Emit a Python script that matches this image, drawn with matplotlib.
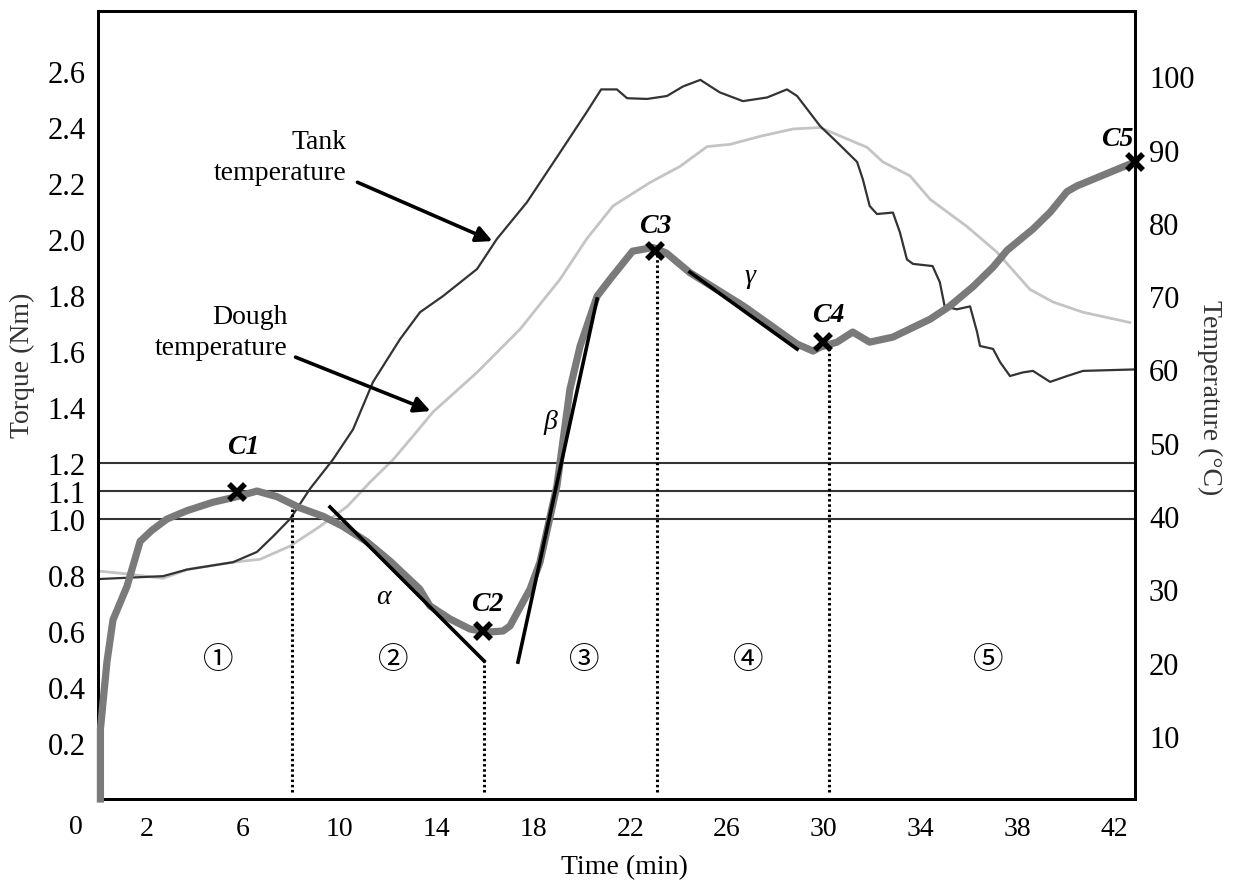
import numpy as np
import matplotlib.pyplot as plt

plt.rcParams['font.family'] = ['Liberation Serif', 'Noto Sans CJK JP', 'DejaVu Sans']

# torque curve (Nm) vs time (min)
torque_t = [0.1, 0.1, 0.37, 0.62, 1.2, 1.74, 2.23, 2.85, 3.68, 4.75, 5.75, 6.57, 7.4, 8.35,
            9.3, 10.1, 11.1, 12.07, 13.3, 13.72, 14.55, 15.38, 16.08, 16.74, 17.03, 17.86,
            18.27, 18.97, 19.51, 19.93, 20.63, 21.17, 22.1, 22.94, 23.5, 24.47, 26.7, 28.9,
            29.56, 29.85, 30.55, 31.2, 31.9, 32.86, 34.4, 35.2, 36.17, 37.0, 37.58, 38.65,
            39.36, 40.06, 40.47, 42.85]
torque = [0.0, 0.25, 0.49, 0.64, 0.76, 0.92, 0.96, 1.0, 1.03, 1.06, 1.08, 1.10, 1.08, 1.04,
          1.01, 0.975, 0.92, 0.85, 0.75, 0.69, 0.643, 0.607, 0.596, 0.6, 0.618, 0.75,
          0.846, 1.118, 1.464, 1.618, 1.796, 1.857, 1.957, 1.97, 1.95, 1.88, 1.76, 1.625,
          1.6, 1.614, 1.632, 1.668, 1.632, 1.65, 1.714, 1.76, 1.83, 1.90, 1.96, 2.036,
          2.096, 2.17, 2.19, 2.275]

# tank temperature (°C)
tank_t = [0.0, 2.69, 3.68, 5.58, 6.57, 7.23, 7.94, 8.76, 9.71, 10.54, 11.37, 12.48, 13.31,
          14.26, 15.67, 16.49, 17.73, 19.1, 20.2, 20.8, 21.45, 21.87, 22.7, 23.52, 24.18,
          24.9, 25.7, 26.66, 27.66, 28.48, 28.9, 29.85, 30.55, 31.38, 31.62, 31.9, 32.2,
          32.86, 33.15, 33.44, 33.69, 34.5, 34.8, 35.0, 35.5, 36.05, 36.34, 36.46, 37.0,
          37.29, 37.7, 38.24, 38.65, 39.36, 40.06, 40.72, 42.85]
tank_temp = [31.4, 31.8, 32.7, 33.7, 35.1, 37.2, 39.6, 43.7, 47.7, 51.8, 58.3, 64.1, 67.8,
             70.0, 73.7, 77.8, 82.8, 89.6, 95.1, 98.2, 98.2, 97.0, 96.9, 97.3, 98.6,
             99.5, 97.8, 96.6, 97.1, 98.2, 97.3, 93.2, 91.0, 88.3, 85.9, 82.3, 81.2,
             81.4, 78.7, 75.0, 74.4, 74.1, 71.9, 68.6, 68.2, 68.6, 65.1, 63.2, 62.8,
             61.0, 59.1, 59.6, 59.8, 58.3, 59.1, 59.8, 60.0]

# dough temperature (°C)
dough_t = [0.0, 1.2, 2.69, 3.68, 5.58, 6.7, 7.94, 9.18, 10.3, 11.24, 12.2, 13.02, 13.85,
           15.67, 17.45, 19.1, 20.2, 21.29, 22.82, 24.06, 25.18, 26.13, 27.37, 28.73,
           29.85, 31.79, 32.45, 33.57, 34.4, 35.92, 37.16, 38.53, 39.48, 40.72, 42.66]
dough_temp = [32.5, 32.1, 31.5, 32.7, 33.7, 34.1, 35.9, 38.6, 41.3, 44.6, 47.7, 50.9, 54.2,
              59.6, 65.5, 72.3, 77.8, 82.3, 85.5, 87.7, 90.4, 90.7, 91.8, 92.8,
              93.0, 90.3, 88.3, 86.4, 83.2, 79.5, 76.0, 70.9, 69.2, 67.8, 66.4]

# characteristic points C1..C5
c_names = ['C1', 'C2', 'C3', 'C4', 'C5']
c_t = [5.75, 15.92, 23.03, 29.97, 42.87]
c_torque = [1.096, 0.60, 1.957, 1.632, 2.275]
c_label_pos = [(6.0, 1.26), (16.1, 0.70), (23.05, 2.05), (30.2, 1.73), (42.15, 2.36)]

# slopes alpha, beta, gamma: (t0, t1), (torque0, torque1), label position
slopes = {
    'α': ((9.59, 15.96), (1.043, 0.493), (11.8, 0.725)),
    'β': ((17.36, 20.63), (0.489, 1.786), (18.7, 1.35)),
    'γ': ((24.47, 28.9), (1.882, 1.607), (26.95, 1.87)),
}

# phase boundaries (time, top of dotted line in torque)
bound_t = [8.0, 15.96, 23.1, 30.2]
bound_top = [1.04, 0.493, 1.957, 1.632]

phases = ['①', '②', '③', '④', '⑤']
phase_t = [4.96, 12.2, 20.1, 26.9, 36.8]

ref_levels = [1.0, 1.1, 1.2]

xticks = [2, 6, 10, 14, 18, 22, 26, 30, 34, 38, 42]
yticks = [0.2, 0.4, 0.6, 0.8, 1.0, 1.1, 1.2, 1.4, 1.6, 1.8, 2.0, 2.2, 2.4, 2.6]
temp_ticks = [10, 20, 30, 40, 50, 60, 70, 80, 90, 100]

fig = plt.figure(figsize=(12.39, 8.87), dpi=100)
ax = fig.add_axes([0.0791, 0.0981, 0.8370, 0.8884])
ax2 = ax.twinx()
ax.set_zorder(ax2.get_zorder() + 1)
ax.patch.set_visible(False)

ax.set_xlim(0, 42.87)
ax.set_ylim(0, 2.815)
ax2.set_ylim(1.4, 108.9)

# temperatures
ax2.plot(dough_t, dough_temp, color='#c4c4c4', lw=2)
ax2.plot(tank_t, tank_temp, color='#333333', lw=1.6)

# reference levels
for lv in ref_levels:
    ax.axhline(lv, color='#333333', lw=1.5, zorder=1)

# phase boundaries
for t, top in zip(bound_t, bound_top):
    ax.plot([t, t], [0.025, top], color='black', lw=2.2, dashes=(0.8, 0.9), zorder=2)

# torque curve
ax.plot(torque_t, torque, color='#7a7a7a', lw=5.2, solid_joinstyle='round', zorder=3,
        clip_on=False)

# tangent slopes
for name, (ts, vs, lpos) in slopes.items():
    ax.plot(ts, vs, color='black', lw=2.6, zorder=4)
    ax.text(lpos[0], lpos[1], name, fontsize=20, style='italic', ha='center', va='center')

# characteristic points
ax.plot(c_t, c_torque, linestyle='none', marker='x', ms=12, mew=4, color='black',
        zorder=5, clip_on=False)
for name, (x, y) in zip(c_names, c_label_pos):
    ax.text(x, y, name, fontsize=20, style='italic', fontweight='bold',
            ha='center', va='center', zorder=6)

for p, t in zip(phases, phase_t):
    ax.text(t, 0.5, p, fontsize=22, ha='center', va='center',
            family=['Noto Sans CJK JP', 'DejaVu Sans'])

# curve labels
ax.text(10.29, 2.293, 'Tank\ntemperature', fontsize=20, ha='right', va='center',
        linespacing=1.3)
ax.annotate('', xy=(16.41, 1.989), xytext=(10.62, 2.207),
            arrowprops=dict(arrowstyle='-|>', color='black', lw=2.6, mutation_scale=24))
ax.text(7.85, 1.668, 'Dough\ntemperature', fontsize=20, ha='right', va='center',
        linespacing=1.3)
ax.annotate('', xy=(13.85, 1.382), xytext=(8.06, 1.582),
            arrowprops=dict(arrowstyle='-|>', color='black', lw=2.6, mutation_scale=24))

# axes styling
ax.set_xticks(xticks)
ax.set_xticklabels([str(v) for v in xticks], fontsize=20)
ax.set_yticks(yticks)
ax.set_yticklabels(['%.1f' % v for v in yticks], fontsize=22)
ax2.set_yticks(temp_ticks)
ax2.set_yticklabels([str(v) for v in temp_ticks], fontsize=22)
ax.tick_params(axis='x', length=0, pad=12)
ax.tick_params(axis='y', length=0, pad=9)
ax2.tick_params(axis='y', length=0, pad=10)
ax.annotate('0', xy=(0, 0), xycoords='axes fraction', xytext=(-16, -20),
            textcoords='offset points', fontsize=20, ha='center', va='center')

for a in (ax, ax2):
    for s in a.spines.values():
        s.set_linewidth(2)
        s.set_color('black')

ax.set_xlabel('Time (min)', fontsize=20, va='center')
ax.xaxis.set_label_coords(0.508, -0.086)
ax.set_ylabel('Torque (Nm)', fontsize=20, color='#333333', va='center')
ax.yaxis.set_label_coords(-0.073, 0.552)
ax2.set_ylabel('Temperature (°C)', fontsize=20, color='#333333', rotation=270,
               va='center')
ax2.yaxis.set_label_coords(1.072, 0.51)

fig.savefig('out.png', dpi=100)
